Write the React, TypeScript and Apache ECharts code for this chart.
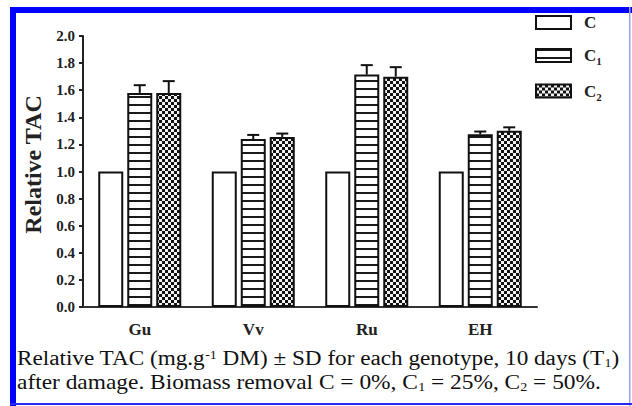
import React, { useEffect, useRef } from "react";
import * as echarts from "echarts";

const categories = ["Gu", "Vv", "Ru", "EH"];
const seriesNames = ["C", "C1", "C2"];
const valuesC = [1.0, 1.0, 1.0, 1.0];
const valuesC1 = [1.58, 1.24, 1.715, 1.275];
const valuesC2 = [1.58, 1.255, 1.7, 1.3];
const errTopC1 = [1.637, 1.27, 1.785, 1.295];
const errTopC2 = [1.667, 1.28, 1.77, 1.326];
const yTicks = { min: 0, max: 2, interval: 0.2 };
const captionLine1 = "Relative TAC (mg.g{sup|-1} DM) ± SD for each genotype, 10 days (T{sub|1})";
const captionLine2 = "after damage. Biomass removal C = 0%, C{sub|1} = 25%, C{sub|2} = 50%.";

const FONT = "'Liberation Serif', 'Times New Roman', serif";
const BAR_W = 25;
const BAR_GAP = 0.16;

function makeStripes(): HTMLCanvasElement {
  const c = document.createElement("canvas");
  c.width = 8;
  c.height = 8;
  const ctx = c.getContext("2d")!;
  ctx.fillStyle = "#ffffff";
  ctx.fillRect(0, 0, 8, 8);
  ctx.fillStyle = "#1a1a1a";
  ctx.fillRect(0, 0, 8, 2);
  return c;
}

function makeChecker(): HTMLCanvasElement {
  const c = document.createElement("canvas");
  c.width = 6;
  c.height = 6;
  const ctx = c.getContext("2d")!;
  ctx.fillStyle = "#111111";
  ctx.fillRect(0, 0, 6, 6);
  ctx.fillStyle = "#f2f2f2";
  ctx.fillRect(0, 0, 3, 3);
  ctx.fillRect(3, 3, 3, 3);
  return c;
}

const captionRich = {
  sup: { fontFamily: FONT, fontSize: 12, fill: "#111", verticalAlign: "top" },
  sub: { fontFamily: FONT, fontSize: 12, fill: "#111", verticalAlign: "bottom" },
};

export default function App() {
  const ref = useRef<HTMLDivElement>(null);
  useEffect(() => {
    if (!ref.current) return;
    const chart = echarts.init(ref.current, null, { renderer: "svg" });
    const stripes = { image: makeStripes(), repeat: "repeat" };
    const checker = { image: makeChecker(), repeat: "repeat" };

    const errData: number[][] = [];
    categories.forEach((_, i) => {
      errData.push([i, valuesC1[i], errTopC1[i], 1]);
      errData.push([i, valuesC2[i], errTopC2[i], 2]);
    });

    const option: any = {
      animation: false,
      backgroundColor: "#ffffff",
      grid: { left: 83, right: 95, top: 36, bottom: 99, containLabel: false },
      legend: {
        data: seriesNames,
        orient: "vertical",
        left: 530,
        top: 9,
        itemWidth: 35,
        itemHeight: 13,
        itemGap: 16,
        icon: "rect",
        formatter: (name: string) =>
          name === "C" ? "{n|C}" : `{n|C}{s|${name.slice(1)}}`,
        textStyle: {
          padding: [0, 0, 0, 8],
          rich: {
            n: { fontFamily: FONT, fontWeight: "bold", fontSize: 17, color: "#222", lineHeight: 22, verticalAlign: "middle" },
            s: { fontFamily: FONT, fontWeight: "bold", fontSize: 11, color: "#222", lineHeight: 22, verticalAlign: "bottom" },
          },
        },
      },
      xAxis: {
        type: "category",
        data: categories,
        axisLine: { show: true, lineStyle: { color: "#333", width: 2 } },
        axisTick: { show: false },
        axisLabel: { fontFamily: FONT, fontWeight: "bold", fontSize: 17, color: "#222", margin: 14 },
      },
      yAxis: {
        type: "value",
        min: yTicks.min,
        max: yTicks.max,
        interval: yTicks.interval,
        name: "Relative TAC",
        nameLocation: "middle",
        nameGap: 34,
        nameTextStyle: { fontFamily: FONT, fontWeight: "bold", fontSize: 24, color: "#222", padding: [0, 0, 0, 14] },
        axisLine: { show: true, lineStyle: { color: "#222", width: 2 } },
        axisTick: { show: true, inside: false, length: 4, lineStyle: { color: "#222", width: 2 } },
        splitLine: { show: false },
        axisLabel: {
          fontFamily: FONT,
          fontWeight: "bold",
          fontSize: 15,
          color: "#222",
          margin: 8,
          formatter: (v: number) => v.toFixed(1),
        },
      },
      series: [
        {
          name: "C",
          type: "bar",
          data: valuesC,
          barWidth: BAR_W,
          barGap: `${BAR_GAP * 100}%`,
          itemStyle: { color: "#ffffff", borderColor: "#111", borderWidth: 2 },
        },
        {
          name: "C1",
          type: "bar",
          data: valuesC1,
          barWidth: BAR_W,
          barGap: `${BAR_GAP * 100}%`,
          itemStyle: { color: stripes, borderColor: "#111", borderWidth: 2 },
        },
        {
          name: "C2",
          type: "bar",
          data: valuesC2,
          barWidth: BAR_W,
          barGap: `${BAR_GAP * 100}%`,
          itemStyle: { color: checker, borderColor: "#111", borderWidth: 2 },
        },
        {
          name: "err",
          type: "custom",
          data: errData,
          z: 5,
          renderItem: (params: any, api: any) => {
            const cat = api.value(0);
            const top = api.value(1);
            const high = api.value(2);
            const s = api.value(3);
            const off = (s - 1) * (BAR_W * (1 + BAR_GAP));
            const p1 = api.coord([cat, top]);
            const p2 = api.coord([cat, high]);
            const x = p1[0] + off;
            const capHalf = 6;
            return {
              type: "group",
              children: [
                { type: "line", shape: { x1: x, y1: p1[1], x2: x, y2: p2[1] }, style: { stroke: "#111", lineWidth: 2 } },
                { type: "line", shape: { x1: x - capHalf, y1: p2[1], x2: x + capHalf, y2: p2[1] }, style: { stroke: "#111", lineWidth: 2 } },
              ],
            };
          },
        },
      ],
      graphic: [
        {
          type: "text",
          x: 17,
          y: 349,
          scaleX: 1.16,
          style: {
            text: captionLine1,
            fontFamily: FONT,
            fontSize: 20,
            fill: "#111",
            verticalAlign: "top",
            rich: captionRich,
          },
        },
        {
          type: "text",
          x: 17,
          y: 373,
          scaleX: 1.17,
          style: {
            text: captionLine2,
            fontFamily: FONT,
            fontSize: 20,
            fill: "#111",
            verticalAlign: "top",
            rich: captionRich,
          },
        },
        { type: "rect", z: 100, shape: { x: 10, y: 7, width: 6, height: 399 }, style: { fill: "#0000ff" } },
        { type: "rect", z: 100, shape: { x: 10, y: 7, width: 622, height: 6 }, style: { fill: "#0000ff" } },
        { type: "rect", z: 100, shape: { x: 629, y: 7, width: 1.5, height: 399 }, style: { fill: "#9aa0ee" } },
        { type: "rect", z: 100, shape: { x: 10, y: 403, width: 622, height: 2 }, style: { fill: "#2a2af0" } },
      ],
    };
    chart.setOption(option);
    return () => chart.dispose();
  }, []);
  return (
    <div
      ref={ref}
      style={{ position: "absolute", left: 0, top: 0, width: 632, height: 406 }}
    />
  );
}
